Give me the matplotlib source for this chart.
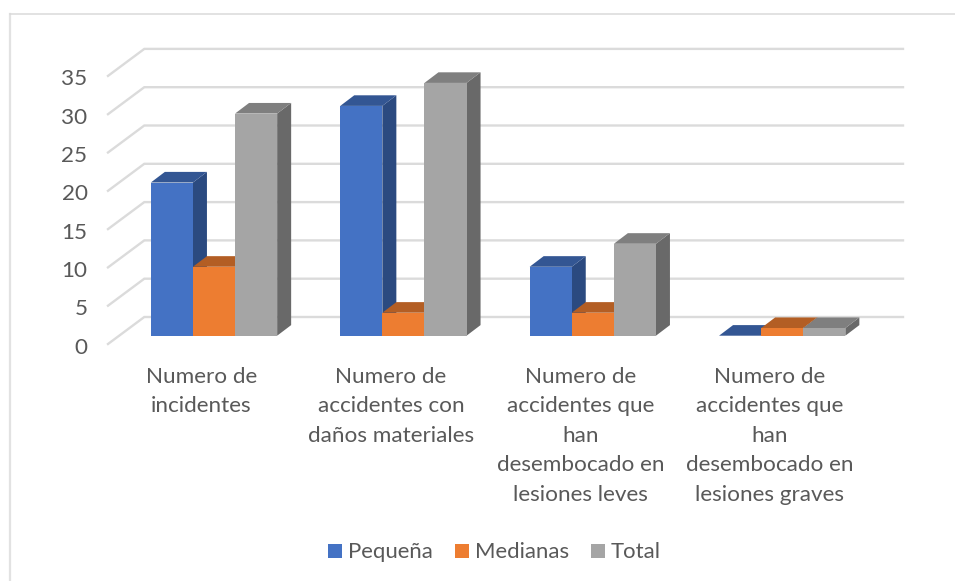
import matplotlib
matplotlib.use('Agg')
import matplotlib.pyplot as plt
from matplotlib.lines import Line2D
from matplotlib.patches import Patch

categories = ["Numero de\nincidentes",
              "Numero de\naccidentes con\ndaños materiales",
              "Numero de\naccidentes que\nhan\ndesembocado en\nlesiones leves",
              "Numero de\naccidentes que\nhan\ndesembocado en\nlesiones graves"]
series_names = ["Pequeña", "Medianas", "Total"]
pequena = [20, 30, 9, 0]
medianas = [9, 3, 3, 1]
total = [29, 33, 12, 1]
y_ticks = [0, 5, 10, 15, 20, 25, 30, 35]

front_colors = ["#4472C4", "#ED7D31", "#A5A5A5"]
top_colors = ["#335693", "#B35E24", "#7F7F7F"]
side_colors = ["#2B4A80", "#9C5220", "#696969"]
GRID = "#DBDBDB"
TEXT = "#595959"
FS = 16.2

W, H = 955, 581
# one category = 189.4 px, one unit of value = 7.66 px, first group centre at 214 px, zero at 335.7 px
PX_CAT = 189.4
PX_VAL = 7.66
X0 = 214.0
Y0 = 335.7
L, R, T, B = 100, 910, 40, 350

plt.rcParams['font.family'] = ['Lato', 'DejaVu Sans']

fig = plt.figure(figsize=(W / 100, H / 100), dpi=100)
ax = fig.add_axes([L / W, 1 - B / H, (R - L) / W, (B - T) / H])
ax.set_xlim((L - X0) / PX_CAT, (R - X0) / PX_CAT)
ax.set_ylim((Y0 - B) / PX_VAL, (Y0 - T) / PX_VAL)
ax.patch.set_alpha(0)
for s in ax.spines.values():
    s.set_visible(False)

# outer frame, cut by the image on the right and at the bottom
fig.add_artist(Line2D([10 / W, 10 / W], [0, 1 - 13.5 / H], color="#E2E2E2", lw=1.6))
fig.add_artist(Line2D([10 / W, 1], [1 - 13.5 / H, 1 - 13.5 / H], color="#DADADA", lw=1.1))

# depth of the bars and of the floor
bar_dx = 14.0 / PX_CAT
bar_dy = 10.6 / PX_VAL
floor_x0 = (108 - X0) / PX_CAT
back_x0 = (144.3 - X0) / PX_CAT
back_x1 = (903 - X0) / PX_CAT
front_shift = (344 - Y0) / PX_VAL
back_shift = (Y0 - 317) / PX_VAL

for v in y_ticks:
    ax.plot([floor_x0, back_x0, back_x1], [v - front_shift, v + back_shift, v + back_shift],
            color=GRID, lw=1.7, solid_joinstyle='miter', zorder=1)

bar_w = 42.1 / PX_CAT
for s, values in enumerate([pequena, medianas, total]):
    for i, v in enumerate(values):
        left = i + (s - 1.5) * bar_w
        right = left + bar_w
        z = 2 + i * 3 + s
        ax.fill([right, right + bar_dx, right + bar_dx, right],
                [0, bar_dy, v + bar_dy, v], color=side_colors[s], lw=0, zorder=z)
        ax.fill([left, right, right + bar_dx, left + bar_dx],
                [v, v, v + bar_dy, v + bar_dy], color=top_colors[s], lw=0, zorder=z)
        ax.bar(left, v, width=bar_w, align='edge', color=front_colors[s], lw=0, zorder=z)

# labels sit a little under the front end of their grid line
ax.set_yticks([v - front_shift - 0.2 for v in y_ticks])
ax.set_yticklabels(y_ticks, fontsize=FS, color=TEXT)
ax.set_xticks([i - 12.5 / PX_CAT for i in range(len(categories))])
ax.set_xticklabels(categories, fontsize=FS, color=TEXT, linespacing=1.6, va='top')
ax.tick_params(axis='y', length=0, pad=9)
ax.tick_params(axis='x', length=0, pad=12)

handles = [Patch(color=c, lw=0) for c in front_colors]
fig.legend(handles, series_names, loc='center', bbox_to_anchor=(494.5 / W, 1 - 552.5 / H),
           ncol=3, frameon=False, fontsize=15.9, labelcolor=TEXT, handlelength=0.63,
           handleheight=0.63, handletextpad=0.27, columnspacing=1.0, borderpad=0)

fig.savefig('out.png', dpi=100)
